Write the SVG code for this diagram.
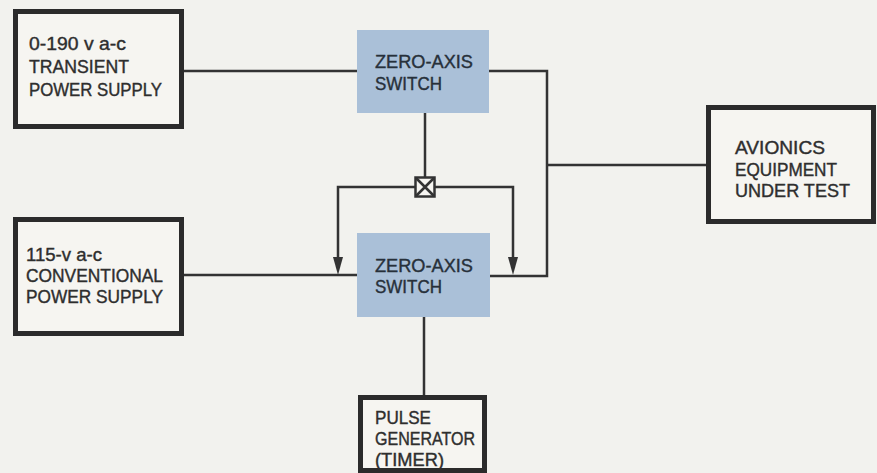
<svg xmlns="http://www.w3.org/2000/svg" width="877" height="473" viewBox="0 0 877 473">
<style>
.box{fill:#f6f5f1;stroke:#2b2b2b;stroke-width:5}
.sw{fill:#aac0d8;stroke:none}
.t{font-family:"Liberation Sans",Arial,sans-serif;font-size:18.5px;fill:#2e2e2e;stroke:#2e2e2e;stroke-width:0.4}
.ts{font-family:"Liberation Sans",Arial,sans-serif;font-size:18.5px;fill:#27303a;stroke:#27303a;stroke-width:0.4}
.ln{fill:none;stroke:#333;stroke-width:2.5}
.ah{fill:#333}
</style>
<rect width="877" height="473" fill="#f2f2ee"/>
<g id="connectors">
<path class="ln" d="M184,71 H358"/>
<path class="ln" d="M489,71 H547 V276 H490"/>
<path class="ln" d="M547,165 H706"/>
<path class="ln" d="M425,113 V177"/>
<path class="ln" d="M184,275 H358"/>
<path class="ln" d="M415,187 H338 V257"/>
<path class="ln" d="M435,187 H513 V257"/>
<path class="ah" d="M333,257 L343,257 L338,275 Z"/>
<path class="ah" d="M508,257 L518,257 L513,275 Z"/>
<path class="ln" d="M424,317 V396"/>
<rect x="415.5" y="177.5" width="19" height="19" fill="#f6f5f1" stroke="#333" stroke-width="2.5"/>
<path class="ln" d="M416,178 L434,196 M434,178 L416,196"/>
</g>
<g id="transient">
<rect class="box" x="15.5" y="11.5" width="166" height="115"/>
<text class="t" x="29" y="50" textLength="97" lengthAdjust="spacingAndGlyphs">0-190 v a-c</text>
<text class="t" x="29" y="73" textLength="100" lengthAdjust="spacingAndGlyphs">TRANSIENT</text>
<text class="t" x="29" y="96" textLength="133" lengthAdjust="spacingAndGlyphs">POWER SUPPLY</text>
</g>
<g id="conventional">
<rect class="box" x="15.5" y="219.5" width="166" height="114"/>
<text class="t" x="26" y="261" textLength="76" lengthAdjust="spacingAndGlyphs">115-v a-c</text>
<text class="t" x="26" y="282" textLength="137" lengthAdjust="spacingAndGlyphs">CONVENTIONAL</text>
<text class="t" x="26" y="303" textLength="137" lengthAdjust="spacingAndGlyphs">POWER SUPPLY</text>
</g>
<g id="switch1">
<rect class="sw" x="357" y="30" width="132" height="83"/>
<text class="ts" x="375" y="68" textLength="98" lengthAdjust="spacingAndGlyphs">ZERO-AXIS</text>
<text class="ts" x="375" y="90" textLength="67" lengthAdjust="spacingAndGlyphs">SWITCH</text>
</g>
<g id="switch2">
<rect class="sw" x="357" y="233" width="133" height="84"/>
<text class="ts" x="375" y="272" textLength="98" lengthAdjust="spacingAndGlyphs">ZERO-AXIS</text>
<text class="ts" x="375" y="293" textLength="67" lengthAdjust="spacingAndGlyphs">SWITCH</text>
</g>
<g id="avionics">
<rect class="box" x="708.5" y="107.5" width="165" height="114"/>
<text class="t" x="735" y="154" textLength="90" lengthAdjust="spacingAndGlyphs">AVIONICS</text>
<text class="t" x="735" y="175.5" textLength="102" lengthAdjust="spacingAndGlyphs">EQUIPMENT</text>
<text class="t" x="735" y="197" textLength="115" lengthAdjust="spacingAndGlyphs">UNDER TEST</text>
</g>
<g id="pulse">
<rect class="box" x="360.5" y="397.5" width="124" height="73"/>
<text class="t" x="375" y="424" textLength="56" lengthAdjust="spacingAndGlyphs">PULSE</text>
<text class="t" x="375" y="445" textLength="100" lengthAdjust="spacingAndGlyphs">GENERATOR</text>
<text class="t" x="375" y="466" textLength="69" lengthAdjust="spacingAndGlyphs">(TIMER)</text>
</g>
</svg>
